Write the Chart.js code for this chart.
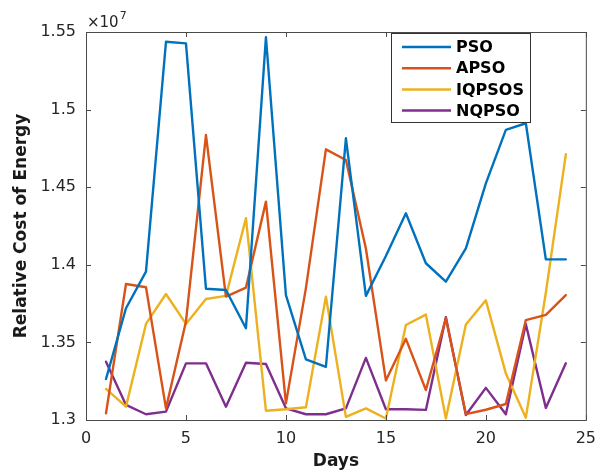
<!DOCTYPE html>
<html>
<head>
<meta charset="utf-8">
<script src="https://cdn.jsdelivr.net/npm/chart.js@4.4.1/dist/chart.umd.min.js"></script>
<style>
  html, body { margin: 0; padding: 0; background: #ffffff; }
  #wrap { width: 605px; height: 474px; }
</style>
</head>
<body>
<div id="wrap"><canvas id="c" width="605" height="474"></canvas></div>
<script>
// Daily relative cost of energy (in units of 1e7) for each optimiser
const days = [1,2,3,4,5,6,7,8,9,10,11,12,13,14,15,16,17,18,19,20,21,22,23,24];

const pso = [1.3264, 1.3720, 1.3956, 1.5437, 1.5427, 1.3846, 1.3838, 1.3591, 1.5466, 1.3805, 1.3391, 1.3343,
             1.4815, 1.3800, 1.4057, 1.4332, 1.4010, 1.3891, 1.4106, 1.4525, 1.4869, 1.4912, 1.4035, 1.4035];
const apso = [1.3043, 1.3876, 1.3855, 1.3075, 1.3635, 1.4836, 1.3795, 1.3853, 1.4407, 1.3107, 1.3850, 1.4744,
              1.4675, 1.4105, 1.3255, 1.3523, 1.3193, 1.3655, 1.3038, 1.3066, 1.3103, 1.3644, 1.3677, 1.3805];
const iqpsos = [1.3200, 1.3086, 1.3619, 1.3812, 1.3619, 1.3780, 1.3800, 1.4300, 1.3060, 1.3069, 1.3082, 1.3795,
                1.3020, 1.3075, 1.3010, 1.3612, 1.3679, 1.3010, 1.3615, 1.3771, 1.3300, 1.3015, 1.3820, 1.4712];
const nqpso = [1.3376, 1.3097, 1.3037, 1.3054, 1.3365, 1.3365, 1.3086, 1.3369, 1.3361, 1.3075, 1.3037, 1.3037,
               1.3075, 1.3400, 1.3069, 1.3069, 1.3065, 1.3662, 1.3032, 1.3207, 1.3037, 1.3617, 1.3078, 1.3365];

const seriesNames = ['PSO', 'APSO', 'IQPSOS', 'NQPSO'];
const seriesValues = [pso, apso, iqpsos, nqpso];
const seriesColors = ['#0072BD', '#D95319', '#EDB120', '#7E2F8E'];

const xTicks = [0, 5, 10, 15, 20, 25];
const yTicks = [1.3, 1.35, 1.4, 1.45, 1.5, 1.55];

const AXIS_COLOR = '#262626';
const FONT = '"DejaVu Sans", sans-serif';

// Box around the axes, inward ticks on all four sides, exponent and legend
const framePlugin = {
  id: 'frame',
  afterDatasetsDraw(chart) {
    const { ctx, chartArea: a, scales } = chart;
    ctx.save();
    ctx.strokeStyle = '#4a4a4a';
    ctx.lineWidth = 1;
    ctx.strokeRect(a.left + 0.5, a.top + 0.5, a.right - a.left, a.bottom - a.top);
    const tl = 5;
    ctx.beginPath();
    xTicks.forEach(v => {
      const px = Math.round(scales.x.getPixelForValue(v)) + 0.5;
      ctx.moveTo(px, a.bottom); ctx.lineTo(px, a.bottom - tl);
      ctx.moveTo(px, a.top); ctx.lineTo(px, a.top + tl);
    });
    yTicks.forEach(v => {
      const py = Math.round(scales.y.getPixelForValue(v)) + 0.5;
      ctx.moveTo(a.left, py); ctx.lineTo(a.left + tl, py);
      ctx.moveTo(a.right, py); ctx.lineTo(a.right - tl, py);
    });
    ctx.stroke();

    // exponent label
    ctx.fillStyle = AXIS_COLOR;
    ctx.textBaseline = 'alphabetic';
    ctx.textAlign = 'left';
    ctx.font = '15px ' + FONT;
    ctx.fillText('\u00d710', a.left + 1, a.top - 5);
    const w = ctx.measureText('\u00d710').width;
    ctx.font = '11px ' + FONT;
    ctx.fillText('7', a.left + 2 + w, a.top - 13);

    // legend
    const lx = 391, ly = 33, lw = 139, lh = 89;
    ctx.fillStyle = '#ffffff';
    ctx.fillRect(lx, ly, lw, lh);
    ctx.strokeStyle = '#333333';
    ctx.lineWidth = 1;
    ctx.strokeRect(lx + 0.5, ly + 0.5, lw, lh);
    ctx.font = 'bold 16px ' + FONT;
    ctx.textBaseline = 'middle';
    chart.data.datasets.forEach((ds, i) => {
      const y = ly + 14 + i * 21.2;
      ctx.strokeStyle = ds.borderColor;
      ctx.lineWidth = 2.5;
      ctx.beginPath();
      ctx.moveTo(lx + 11, y); ctx.lineTo(lx + 60, y);
      ctx.stroke();
      ctx.fillStyle = '#000000';
      ctx.fillText(ds.label, lx + 65, y + 1);
    });
    ctx.restore();
  }
};

new Chart(document.getElementById('c'), {
  type: 'line',
  data: {
    datasets: seriesNames.map((name, i) => ({
      label: name,
      data: days.map((d, k) => ({ x: d, y: seriesValues[i][k] })),
      borderColor: seriesColors[i],
      backgroundColor: seriesColors[i],
      borderWidth: 2.4,
      borderJoinStyle: 'round',
      borderCapStyle: 'round',
      pointRadius: 0,
      tension: 0,
      fill: false
    }))
  },
  options: {
    responsive: false,
    animation: false,
    devicePixelRatio: 1,
    layout: { padding: { top: 32, right: 17, left: 0, bottom: 0 } },
    plugins: {
      legend: { display: false },
      tooltip: { enabled: false }
    },
    scales: {
      x: {
        type: 'linear',
        min: 0, max: 25,
        afterBuildTicks(scale) { scale.ticks = xTicks.map(v => ({ value: v })); },
        afterFit(scale) { scale.height = 54; },
        grid: { display: false, drawTicks: false },
        border: { display: false },
        ticks: {
          color: AXIS_COLOR,
          font: { family: FONT, size: 16 },
          padding: 9,
          maxRotation: 0,
          callback: v => String(v)
        },
        title: {
          display: true,
          text: 'Days',
          color: '#1a1a1a',
          font: { family: FONT, size: 17, weight: 'bold' },
          padding: { top: 2, bottom: 2 }
        }
      },
      y: {
        type: 'linear',
        min: 1.3, max: 1.55,
        afterBuildTicks(scale) { scale.ticks = yTicks.map(v => ({ value: v })); },
        afterFit(scale) { scale.width = 86; },
        grid: { display: false, drawTicks: false },
        border: { display: false },
        ticks: {
          color: AXIS_COLOR,
          font: { family: FONT, size: 16 },
          padding: 10,
          callback: v => String(Math.round(v * 100) / 100)
        },
        title: {
          display: true,
          text: 'Relative Cost of Energy',
          color: '#1a1a1a',
          font: { family: FONT, size: 17, weight: 'bold' },
          padding: { top: 11, bottom: 4 }
        }
      }
    }
  },
  plugins: [framePlugin]
});
</script>
</body>
</html>
